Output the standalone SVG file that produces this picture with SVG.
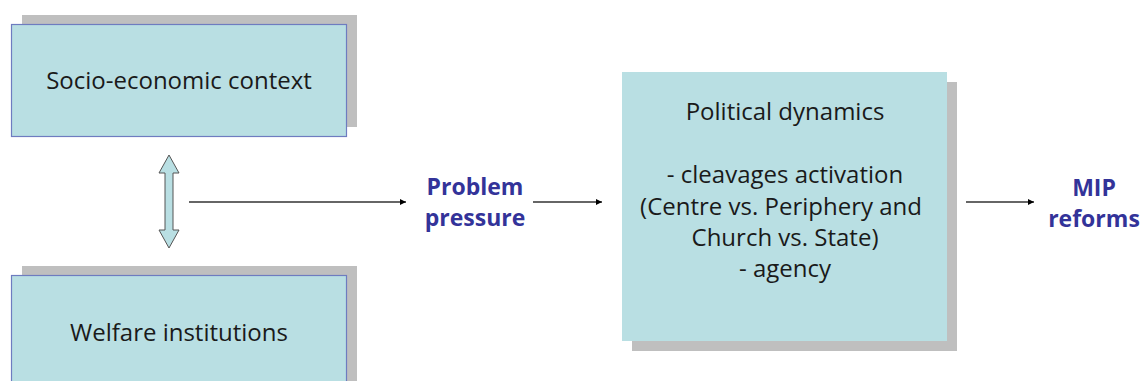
<svg xmlns="http://www.w3.org/2000/svg" width="1143" height="381" viewBox="0 0 1143 381">
<defs>
<style>
.shadow{fill:#bfbfbf}
.box{fill:#b9dfe3;stroke:#6e7cc0;stroke-width:1.2}
.boxnb{fill:#b9dfe3}
.t{font-family:"Open Sans","Liberation Sans",sans-serif;font-size:24px;fill:#1a1a1a;text-anchor:middle}
.b{font-family:"Open Sans","Liberation Sans",sans-serif;font-size:23px;font-weight:bold;fill:#333399;text-anchor:middle}
.conn{stroke:#333;stroke-width:1.5;fill:none;marker-end:url(#ah)}
</style>
<marker id="ah" viewBox="0 0 10 10" refX="10" refY="5" markerWidth="6.5" markerHeight="6.5" markerUnits="userSpaceOnUse" orient="auto">
<path d="M0,0 L10,5 L0,10 z" fill="#000"/>
</marker>
</defs>
<rect width="1143" height="381" fill="#fff"/>
<g id="socio">
<rect class="shadow" x="22" y="15" width="335" height="112"/>
<rect class="box" x="11.5" y="24.5" width="335" height="112"/>
<text class="t" x="179" y="89">Socio-economic context</text>
</g>
<g id="welfare">
<rect class="shadow" x="22" y="266" width="335" height="120"/>
<rect class="box" x="11.5" y="275.5" width="335" height="112"/>
<text class="t" x="179" y="341">Welfare institutions</text>
</g>
<g id="political">
<rect class="shadow" x="632" y="82" width="325" height="269"/>
<rect class="boxnb" x="622" y="72" width="325" height="269"/>
<text class="t" x="785" y="120">Political dynamics</text>
<text class="t" x="785" y="183">- cleavages activation</text>
<text class="t" x="781" y="215">(Centre vs. Periphery and</text>
<text class="t" x="785" y="246">Church vs. State)</text>
<text class="t" x="785" y="277">- agency</text>
</g>
<g id="problem">
<text class="b" x="475" y="195">Problem</text>
<text class="b" x="475" y="226">pressure</text>
</g>
<g id="mip">
<text class="b" x="1094" y="196">MIP</text>
<text class="b" x="1094" y="227">reforms</text>
</g>
<g id="connectors">
<path d="M169,155 L179,173 L173,173 L173,230 L179,230 L169,248 L159,230 L165,230 L165,173 L159,173 Z" fill="#b9dfe3" stroke="#555" stroke-width="1"/>
<line class="conn" x1="189" y1="202" x2="406" y2="202"/>
<line class="conn" x1="533" y1="202" x2="602" y2="202"/>
<line class="conn" x1="966" y1="202" x2="1034" y2="202"/>
</g>
</svg>
